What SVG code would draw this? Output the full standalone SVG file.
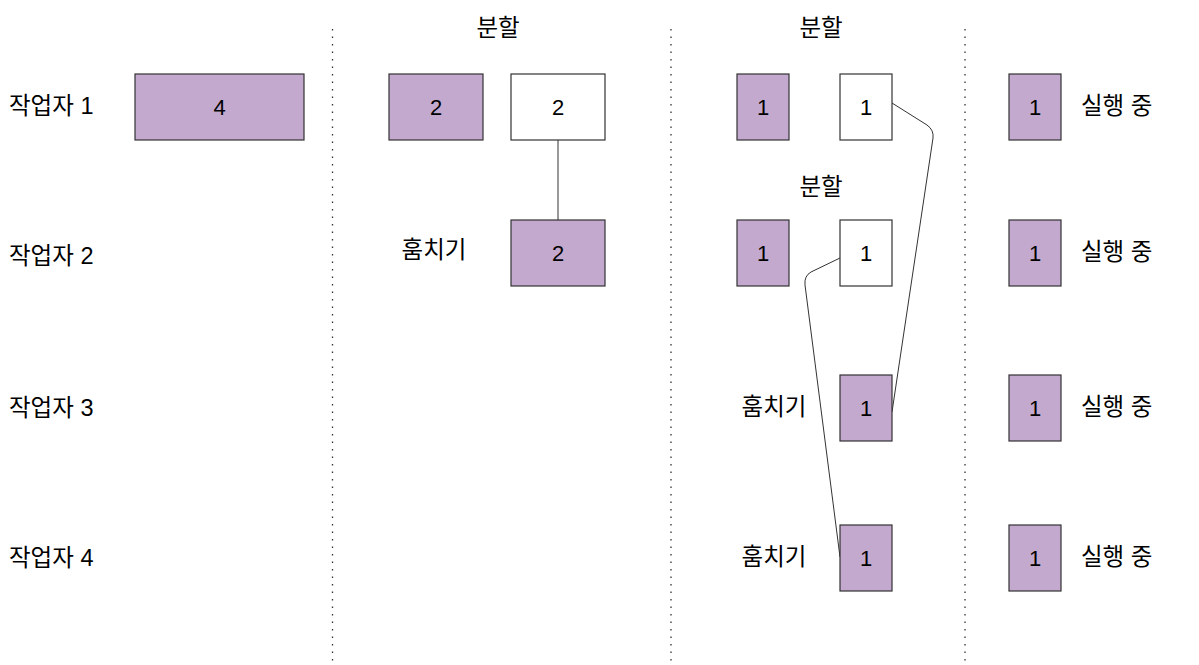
<svg xmlns="http://www.w3.org/2000/svg" width="1199" height="665" viewBox="0 0 1199 665">
<style>
text{font-family:"Liberation Sans","Noto Sans CJK KR",sans-serif;font-size:22px;fill:#000;dominant-baseline:central}
.k{font-size:23.5px}
.c{text-anchor:middle}
.p{fill:#c3a9cd;stroke:#333;stroke-width:1.2}
.w{fill:#fff;stroke:#333;stroke-width:1.2}
.d{stroke:#333;stroke-width:1.3;stroke-dasharray:1.5 6;fill:none}
.e{stroke:#333;stroke-width:1;fill:none}
</style>
<rect width="1199" height="665" fill="#fff"/>
<g id="dividers">
<line class="d" x1="332.5" y1="29" x2="332.5" y2="665"/>
<line class="d" x1="671" y1="29" x2="671" y2="665"/>
<line class="d" x1="965" y1="29" x2="965" y2="665"/>
</g>
<g id="labels">
<text class="k" x="9" y="106">작업자 1</text>
<text class="k" x="9" y="256">작업자 2</text>
<text class="k" x="9" y="408">작업자 3</text>
<text class="k" x="9" y="558">작업자 4</text>
<text class="k c" x="498" y="28">분할</text>
<text class="k c" x="821" y="28">분할</text>
<text class="k c" x="821" y="187">분할</text>
<text class="k c" x="434" y="250">훔치기</text>
<text class="k c" x="774" y="407">훔치기</text>
<text class="k c" x="774" y="557">훔치기</text>
<text class="k" x="1081" y="106">실행 중</text>
<text class="k" x="1081" y="252">실행 중</text>
<text class="k" x="1081" y="407">실행 중</text>
<text class="k" x="1081" y="557">실행 중</text>
</g>
<g id="connectors">
<line class="e" x1="558" y1="140" x2="558" y2="220"/>
<path class="e" d="M892,103 L927,125 Q934,130 933,138 L892,412"/>
<path class="e" d="M840,258 L811,272 Q804,276 805,285 L840,557"/>
</g>
<g id="n1"><rect class="p" x="135" y="74" width="169" height="66"/><text class="c" x="219.5" y="107">4</text></g>
<g id="n2"><rect class="p" x="389" y="74" width="94" height="66"/><text class="c" x="436" y="107">2</text></g>
<g id="n3"><rect class="w" x="511" y="74" width="94" height="66"/><text class="c" x="558" y="107">2</text></g>
<g id="n4"><rect class="p" x="511" y="220" width="94" height="66"/><text class="c" x="558" y="253">2</text></g>
<g id="n5"><rect class="p" x="737" y="74" width="52" height="66"/><text class="c" x="763" y="107">1</text></g>
<g id="n6"><rect class="w" x="840" y="74" width="52" height="66"/><text class="c" x="866" y="107">1</text></g>
<g id="n7"><rect class="p" x="737" y="220" width="52" height="66"/><text class="c" x="763" y="253">1</text></g>
<g id="n8"><rect class="w" x="840" y="220" width="52" height="66"/><text class="c" x="866" y="253">1</text></g>
<g id="n9"><rect class="p" x="840" y="375" width="52" height="66"/><text class="c" x="866" y="408">1</text></g>
<g id="n10"><rect class="p" x="840" y="525" width="52" height="66"/><text class="c" x="866" y="558">1</text></g>
<g id="n11"><rect class="p" x="1009" y="74" width="52" height="66"/><text class="c" x="1035" y="107">1</text></g>
<g id="n12"><rect class="p" x="1009" y="220" width="52" height="66"/><text class="c" x="1035" y="253">1</text></g>
<g id="n13"><rect class="p" x="1009" y="375" width="52" height="66"/><text class="c" x="1035" y="408">1</text></g>
<g id="n14"><rect class="p" x="1009" y="525" width="52" height="66"/><text class="c" x="1035" y="558">1</text></g>
</svg>
